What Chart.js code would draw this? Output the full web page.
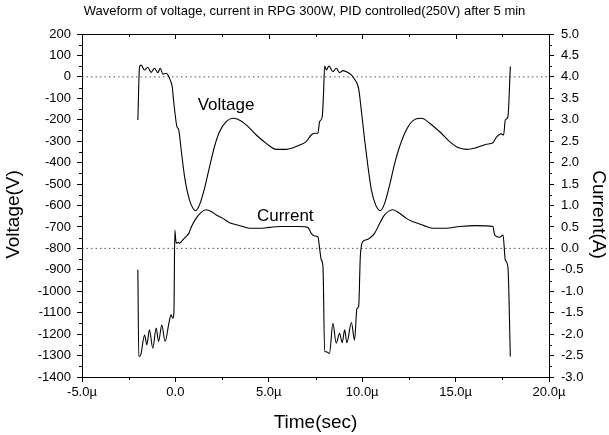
<!DOCTYPE html>
<html>
<head>
<meta charset="utf-8">
<script src="https://cdn.jsdelivr.net/npm/chart.js@4.4.1/dist/chart.umd.min.js"></script>
<style>
html,body{margin:0;padding:0;background:#fff;}
#wrap{position:relative;width:609px;height:435px;}
</style>
</head>
<body>
<div id="wrap"><canvas id="c"></canvas></div>
<script>
// Time axis in microseconds
const voltageTime = [-2.01,-1.92,-1.83,-1.66,-1.48,-1.30,-1.12,-0.94,-0.81,-0.67,-0.49,-0.40,-0.28,-0.17,-0.10,0.00,0.08,0.18,0.31,0.49,0.66,0.85,1.08,1.29,1.56,1.83,2.09,2.36,2.72,3.07,3.34,3.79,4.33,4.86,5.40,5.93,6.65,7.00,7.27,7.45,7.63,7.72,7.86,7.93,7.99,8.08,8.22,8.43,8.61,8.79,8.97,9.24,9.42,9.59,9.72,9.82,9.95,10.13,10.31,10.49,10.72,10.97,11.20,11.47,11.74,12.00,12.36,12.72,13.17,13.61,14.15,14.68,15.13,15.58,16.11,16.65,17.00,17.18,17.45,17.57,17.66,17.80,17.93];
const voltageValues = [-201,48,55,32,45,21,40,20,40,13,17,9,-14,-46,-108,-185,-232,-248,-341,-465,-543,-597,-624,-597,-520,-419,-326,-256,-209,-193,-198,-224,-271,-310,-338,-338,-318,-302,-271,-263,-263,-209,-186,-77,51,32,51,24,40,20,29,20,9,-11,-30,-61,-154,-294,-419,-527,-597,-624,-590,-504,-403,-326,-248,-204,-193,-216,-256,-302,-330,-338,-330,-314,-307,-282,-266,-271,-201,-186,48];
const currentTime = [-2.01,-1.96,-1.86,-1.65,-1.53,-1.39,-1.21,-1.03,-0.90,-0.73,-0.55,-0.35,-0.23,-0.14,-0.08,-0.03,0.04,0.15,0.22,0.40,0.58,0.72,0.85,1.11,1.38,1.65,1.92,2.19,2.54,2.90,3.26,3.61,3.97,4.50,5.04,5.58,6.65,7.09,7.27,7.45,7.63,7.72,7.81,7.90,7.99,8.08,8.25,8.43,8.61,8.79,8.93,9.06,9.18,9.42,9.59,9.72,9.81,9.90,10.04,10.22,10.40,10.66,10.93,11.20,11.47,11.64,12.00,12.36,12.72,13.07,13.43,13.79,14.50,15.22,16.10,17.00,17.09,17.36,17.54,17.66,17.80,17.93];
const currentValues = [-0.50,-2.52,-2.49,-2.02,-2.25,-1.90,-2.33,-1.86,-2.17,-1.79,-2.17,-1.75,-1.55,-1.63,-1.51,0.43,0.12,0.14,0.12,0.20,0.28,0.35,0.50,0.70,0.84,0.90,0.86,0.78,0.70,0.60,0.55,0.51,0.47,0.47,0.49,0.51,0.51,0.49,0.35,0.29,0.27,0.00,-0.27,-0.43,-2.41,-2.41,-2.45,-1.75,-2.21,-1.98,-2.20,-1.90,-2.20,-1.73,-2.14,-1.40,-1.36,-0.19,0.16,0.20,0.24,0.35,0.58,0.78,0.88,0.90,0.82,0.70,0.62,0.57,0.51,0.47,0.47,0.51,0.53,0.51,0.31,0.26,0.31,-0.27,-0.43,-2.52];
const xTickValues = [-5, 0, 5, 10, 15, 20];
const voltageRefLines = [0, -800];
const annotations = [
  {text: 'Voltage', x: 2.71, y: -131},
  {text: 'Current', x: 5.88, y: -649}
];
const titleText = 'Waveform of voltage, current in RPG 300W, PID controlled(250V) after 5 min';
const leftTitle = 'Voltage(V)';
const rightTitle = 'Current(A)';
const bottomTitle = 'Time(sec)';

const FONT = "'Liberation Sans', Arial, sans-serif";

const zip = (xs, ys) => xs.map((x, i) => ({x: x, y: ys[i]}));

const lineStyle = {borderColor: '#000', borderWidth: 1.1, pointRadius: 0, cubicInterpolationMode: 'monotone', fill: false};
const datasets = [
  Object.assign({label: 'Voltage', data: zip(voltageTime, voltageValues), yAxisID: 'y'}, lineStyle),
  Object.assign({label: 'Current', data: zip(currentTime, currentValues), yAxisID: 'y1'}, lineStyle)
];
voltageRefLines.forEach(v => datasets.push({
  label: 'ref' + v, data: [{x: -5, y: v}, {x: 20, y: v}], yAxisID: 'y',
  borderColor: '#555', borderWidth: 1, borderDash: [1.5, 3], pointRadius: 0, fill: false
}));

const extras = {
  id: 'extras',
  afterDraw(chart) {
    const {ctx, chartArea: a, scales: {x, y, y1}} = chart;
    ctx.save();
    ctx.strokeStyle = '#000';
    ctx.lineWidth = 1;
    const line = (x1, y1_, x2, y2) => { ctx.beginPath(); ctx.moveTo(x1, y1_); ctx.lineTo(x2, y2); ctx.stroke(); };
    // top frame
    line(a.left, Math.round(a.top) + 0.5, a.right, Math.round(a.top) + 0.5);
    // x ticks: minor on bottom, all inward on top
    for (let v = -5; v <= 20.001; v += 2.5) {
      const px = Math.round(x.getPixelForValue(v)) + 0.5;
      const major = Math.abs(v % 5) < 1e-6;
      if (!major) line(px, a.bottom, px, a.bottom + 3);
      line(px, a.top, px, a.top + (major ? 5 : 3));
    }
    for (let v = -1350; v < 200; v += 100) {
      const py = Math.round(y.getPixelForValue(v)) + 0.5;
      line(a.left - 3, py, a.left, py);
    }
    for (let v = -2.75; v < 5; v += 0.5) {
      const py = Math.round(y1.getPixelForValue(v)) + 0.5;
      line(a.right, py, a.right + 3, py);
    }
    ctx.fillStyle = '#000';
    ctx.font = '17px ' + FONT;
    ctx.textAlign = 'center';
    ctx.textBaseline = 'middle';
    annotations.forEach(an => ctx.fillText(an.text, x.getPixelForValue(an.x), y.getPixelForValue(an.y)));
    // vertical axis titles
    const cy = (a.top + a.bottom) / 2 + 9;
    ctx.font = '19px ' + FONT;
    ctx.save();
    ctx.translate(14, cy);
    ctx.rotate(-Math.PI / 2);
    ctx.fillText(leftTitle, 0, 0);
    ctx.restore();
    ctx.save();
    ctx.translate(598, cy);
    ctx.rotate(Math.PI / 2);
    ctx.fillText(rightTitle, 0, 0);
    ctx.restore();
    ctx.restore();
  }
};

const tickFont = {family: FONT, size: 13};
const titleFont = {family: FONT, size: 19};

new Chart(document.getElementById('c'), {
  type: 'line',
  data: {datasets: datasets},
  options: {
    responsive: true,
    maintainAspectRatio: false,
    animation: false,
    events: [],
    layout: {padding: {top: 0, left: 0, right: 0, bottom: 0}},
    plugins: {
      legend: {display: false},
      tooltip: {enabled: false},
      title: {display: true, text: titleText, color: '#000', font: {family: FONT, size: 13, weight: 'normal'}, padding: {top: 4, bottom: 14.4}}
    },
    scales: {
      x: {
        type: 'linear', position: 'bottom', min: -5, max: 20,
        afterBuildTicks: s => { s.ticks = xTickValues.map(v => ({value: v})); },
        afterFit: s => { s.height = 58; },
        ticks: {color: '#000', font: tickFont, padding: 3, maxRotation: 0, autoSkip: false,
          callback: v => v === 0 ? '0.0' : v.toFixed(1) + 'µ'},
        grid: {drawOnChartArea: false, drawTicks: true, tickLength: 5, color: '#000'},
        border: {display: true, color: '#000', width: 1},
        title: {display: true, text: bottomTitle, color: '#000', font: titleFont, padding: {top: 2, bottom: 1}}
      },
      y: {
        type: 'linear', position: 'left', min: -1400, max: 200,
        afterFit: s => { s.width = 82; },
        ticks: {stepSize: 100, color: '#000', font: tickFont, padding: 6, autoSkip: false,
          callback: v => String(v)},
        grid: {drawOnChartArea: false, drawTicks: true, tickLength: 5, color: '#000'},
        border: {display: true, color: '#000', width: 1}
      },
      y1: {
        type: 'linear', position: 'right', min: -3, max: 5,
        afterFit: s => { s.width = 60; },
        ticks: {stepSize: 0.5, color: '#000', font: tickFont, padding: 7, autoSkip: false,
          callback: v => v.toFixed(1)},
        grid: {drawOnChartArea: false, drawTicks: true, tickLength: 5, color: '#000'},
        border: {display: true, color: '#000', width: 1}
      }
    }
  },
  plugins: [extras]
});
</script>
</body>
</html>
